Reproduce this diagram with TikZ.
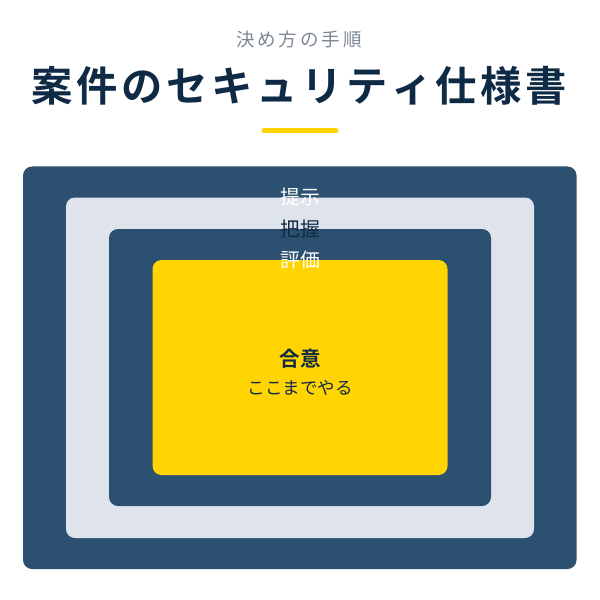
\documentclass[tikz,border=0pt]{standalone}
\usepackage{fontspec}
\newfontfamily\jp[Kerning=Off]{Noto Sans CJK JP}
\newfontfamily\jpb[Kerning=Off]{Noto Sans CJK JP Bold}
\definecolor{navy}{HTML}{2B5070}
\definecolor{pale}{HTML}{DFE4EC}
\definecolor{gold}{HTML}{FFD400}
\definecolor{ink}{HTML}{0F2A45}
\definecolor{subgray}{HTML}{7D8894}
\newcommand{\sk}{\kern3bp}
\newcommand{\tk}{\kern3.6bp}
\tikzset{
  layer/.style={rounded corners=9bp},
  lbl/.style={font=\jp\fontsize{19.8bp}{21bp}\selectfont, inner sep=0pt},
}
\begin{document}
\begin{tikzpicture}[x=1bp,y=-1bp]
\useasboundingbox[fill=white] (0,0) rectangle (600,600);
\fill[layer,navy] (23,166.5) rectangle (576.5,569);
\fill[layer,pale] (66,197.5) rectangle (534,538);
\fill[layer,navy] (109,229) rectangle (491,506);
\fill[layer,gold] (152.5,260) rectangle (447.5,475);
\node[font=\jp\fontsize{18.5bp}{21bp}\selectfont, text=subgray, inner sep=0pt] (sub) at (299,39) {決\sk め\sk 方\sk の\sk 手\sk 順};
\node[font=\jpb\fontsize{41.3bp}{46bp}\selectfont, text=ink, inner sep=0pt] (title) at (299.5,86) {案\tk 件\tk の\tk セ\tk キ\tk ュ\tk リ\tk テ\tk ィ\tk 仕\tk 様\tk 書};
\coordinate (ul) at (264,131);
\coordinate (ur) at (336,131);
\draw[gold, line width=5bp, line cap=round] (ul) -- (ur);
\node[lbl, text=white] (l1) at (300,197) {提示};
\node[lbl, text=ink] (l2) at (300,228.5) {把握};
\node[lbl, text=white] (l3) at (300,260) {評価};
\node[font=\jpb\fontsize{20.5bp}{22bp}\selectfont, text=ink, inner sep=0pt] (c1) at (300,359) {合意};
\node[font=\jp\fontsize{17.5bp}{20bp}\selectfont, text=ink, inner sep=0pt] (c2) at (300,387.5) {ここまでやる};
\end{tikzpicture}
\end{document}
